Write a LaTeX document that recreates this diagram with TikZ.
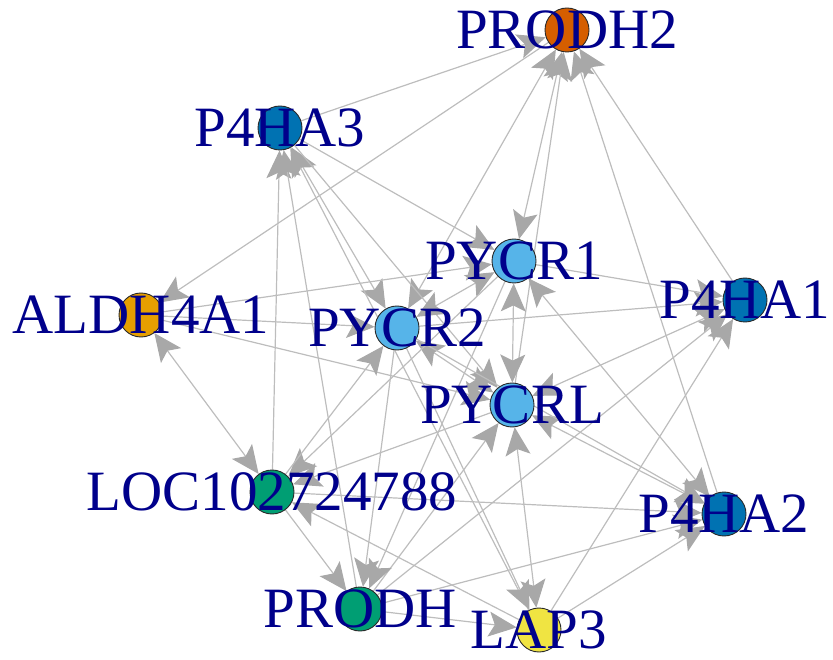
\documentclass[tikz,border=0pt]{standalone}
\usepackage{fontspec}
\setmainfont{Liberation Serif}
\usetikzlibrary{arrows.meta,backgrounds}
\definecolor{cRed}{HTML}{D55E00}
\definecolor{cBlue}{HTML}{0072B2}
\definecolor{cSky}{HTML}{56B4E9}
\definecolor{cOrange}{HTML}{E69F00}
\definecolor{cGreen}{HTML}{009E73}
\definecolor{cYellow}{HTML}{F0E442}
\definecolor{cNavy}{HTML}{00008B}
\definecolor{cEdge}{HTML}{BDBDBD}
\definecolor{cTip}{HTML}{A8A8A8}
\definecolor{cRim}{HTML}{2A2A2A}
\tikzset{
  tiphead/.tip={Stealth[length=28pt,width=25pt,inset=6pt,color=cTip]}
}
\begin{document}
\begin{tikzpicture}[x=1pt,y=-1pt,
  vtx/.style={circle,draw=cRim,line width=0.9pt,minimum size=44pt,inner sep=0pt},
  lab/.style={text=cNavy,font=\fontsize{57}{60}\selectfont,inner sep=0pt},
  edge/.style={draw=cEdge,line width=1.2pt,-tiphead},
  edgeb/.style={draw=cEdge,line width=1.2pt,tiphead-tiphead},
]
\useasboundingbox (0,0) rectangle (833,660);

% vertices
\node[vtx,fill=cRed]    (prodh2) at (567,30)  {};
\node[vtx,fill=cBlue]   (p4ha3)  at (280,128) {};
\node[vtx,fill=cSky]    (pycr1)  at (514,261) {};
\node[vtx,fill=cOrange] (aldh)   at (141,315) {};
\node[vtx,fill=cBlue]   (p4ha1)  at (745,300) {};
\node[vtx,fill=cSky]    (pycr2)  at (397,328) {};
\node[vtx,fill=cSky]    (pycrl)  at (512,405) {};
\node[vtx,fill=cGreen]  (loc)    at (272,492) {};
\node[vtx,fill=cBlue]   (p4ha2)  at (724,514) {};
\node[vtx,fill=cGreen]  (prodh)  at (360,609) {};
\node[vtx,fill=cYellow] (lap3)   at (539,630) {};

% edges
\begin{pgfonlayer}{background}
\draw[edge]  (p4ha3) -- (prodh2);
\draw[edge]  (prodh2) -- (aldh);
\draw[edgeb] (pycr2) -- (prodh2);
\draw[edgeb] (pycr1) -- (prodh2);
\draw[edge]  (pycrl) -- (prodh2);
\draw[edge]  (p4ha2) -- (prodh2);
\draw[edge]  (p4ha1) -- (prodh2);
\draw[edgeb] (aldh) -- (loc);
\draw[edge]  (loc) -- (p4ha3);
\draw[edge]  (prodh) -- (p4ha3);
\draw[edgeb] (pycr2) -- (p4ha3);
\draw[edge]  (lap3) -- (p4ha3);
\draw[edge]  (p4ha3) -- (pycr1);
\draw[edge]  (p4ha3) -- (pycrl);
\draw[edge]  (aldh) -- (pycr1);
\draw[edge]  (aldh) -- (pycr2);
\draw[edge]  (aldh) -- (pycrl);
\draw[edge]  (pycr2) -- (p4ha1);
\draw[edge]  (pycr1) -- (p4ha1);
\draw[edgeb] (pycrl) -- (p4ha1);
\draw[edgeb] (pycr1) -- (pycr2);
\draw[edgeb] (pycr1) -- (pycrl);
\draw[edgeb] (pycr2) -- (pycrl);
\draw[edge]  (pycr1) -- (loc);
\draw[edge]  (loc) -- (pycr2);
\draw[edge]  (pycrl) -- (loc);
\draw[edge]  (prodh) -- (pycrl);
\draw[edge]  (loc) -- (prodh);
\draw[edge]  (lap3) -- (loc);
\draw[edge]  (loc) -- (p4ha2);
\draw[edge]  (pycr2) -- (prodh);
\draw[edge]  (pycr1) -- (prodh);
\draw[edge]  (prodh) -- (lap3);
\draw[edge]  (prodh) -- (p4ha2);
\draw[edge]  (prodh) -- (p4ha1);
\draw[edge]  (pycr2) -- (lap3);
\draw[edgeb] (pycrl) -- (lap3);
\draw[edge]  (lap3) -- (p4ha2);
\draw[edge]  (lap3) -- (p4ha1);
\draw[edgeb] (pycrl) -- (p4ha2);
\draw[edgeb] (pycr1) -- (p4ha2);
\draw[edge]  (pycr2) -- (p4ha2);
\end{pgfonlayer}

% labels
\node[lab] (l-prodh2) at (prodh2) {PRODH2};
\node[lab] (l-p4ha3)  at (p4ha3)  {P4HA3};
\node[lab] (l-pycr1)  at (pycr1)  {PYCR1};
\node[lab] (l-aldh)   at (aldh)   {ALDH4A1};
\node[lab] (l-p4ha1)  at (p4ha1)  {P4HA1};
\node[lab] (l-pycr2)  at (pycr2)  {PYCR2};
\node[lab] (l-pycrl)  at (pycrl)  {PYCRL};
\node[lab] (l-loc)    at (loc)    {LOC102724788};
\node[lab] (l-p4ha2)  at (p4ha2)  {P4HA2};
\node[lab] (l-prodh)  at (prodh)  {PRODH};
\node[lab] (l-lap3)   at (lap3)   {LAP3};
\end{tikzpicture}
\end{document}
